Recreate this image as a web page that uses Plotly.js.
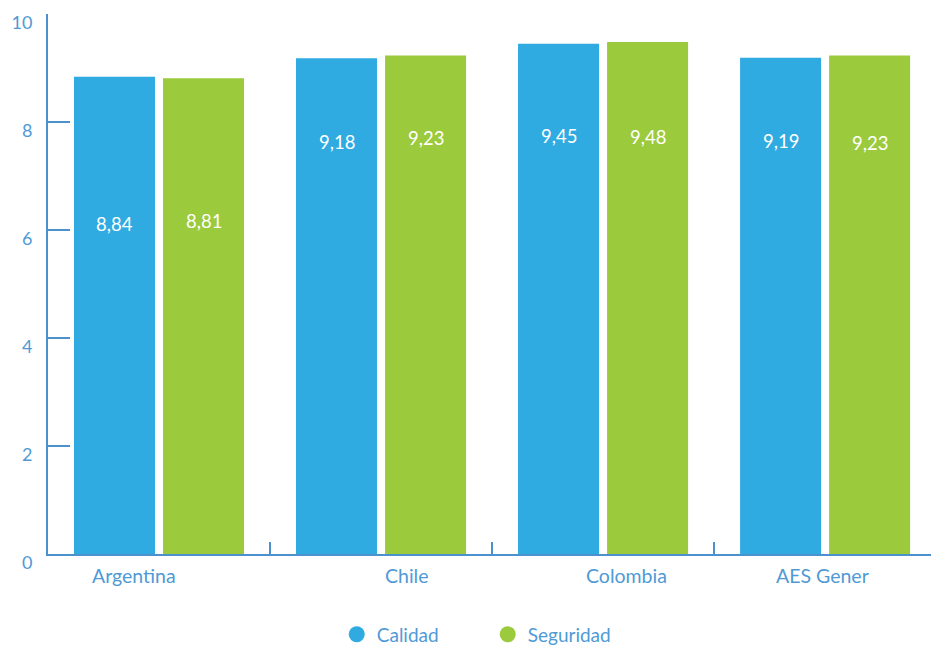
<!DOCTYPE html>
<html>
<head>
<meta charset="utf-8">
<script src="https://cdn.plot.ly/plotly-3.0.1.min.js"></script>
<style>html,body{margin:0;padding:0;background:#fff;}#chart{width:931px;height:646px;}</style>
</head>
<body>
<div id="chart"></div>
<script>
const categories = ["Argentina", "Chile", "Colombia", "AES Gener"];
const calidad = [8.84, 9.18, 9.45, 9.19];
const seguridad = [8.81, 9.23, 9.48, 9.23];
const seriesNames = ["Calidad", "Seguridad"];
const yTicks = [0, 2, 4, 6, 8, 10];

// styling / placement constants (pixels)
const blueColor = "#2fabe1";
const greenColor = "#9bca3c";
const axisColor = "#4a91cd";
const textColor = "#4f9ad6";
const fontFamily = "Lato, 'Open Sans', sans-serif";
const catLabelShift = [-25, 26, 23, -3];
const calLabelDrop = [147, 84, 92, 83];
const segLabelDrop = [143, 82, 95, 87];
const barOffset = 44.5;

function fmt(v) { return v.toFixed(2).replace(".", ","); }

const traces = [
  {type: "bar", x: categories, y: calidad, name: seriesNames[0], marker: {color: blueColor}, showlegend: false, hoverinfo: "skip"},
  {type: "bar", x: categories, y: seguridad, name: seriesNames[1], marker: {color: greenColor}, showlegend: false, hoverinfo: "skip"},
  {type: "scatter", mode: "markers", x: [null], y: [null], name: seriesNames[0], marker: {color: blueColor, size: 18, symbol: "circle"}},
  {type: "scatter", mode: "markers", x: [null], y: [null], name: seriesNames[1], marker: {color: greenColor, size: 18, symbol: "circle"}}
];

const annotations = [];
categories.forEach((c, i) => {
  annotations.push({x: c, y: calidad[i], xref: "x", yref: "y", text: fmt(calidad[i]), showarrow: false,
    xshift: -barOffset, yshift: -calLabelDrop[i], yanchor: "middle", xanchor: "center",
    font: {family: fontFamily, size: 18.5, color: "#ffffff"}});
  annotations.push({x: c, y: seguridad[i], xref: "x", yref: "y", text: fmt(seguridad[i]), showarrow: false,
    xshift: barOffset, yshift: -segLabelDrop[i], yanchor: "middle", xanchor: "center",
    font: {family: fontFamily, size: 18.5, color: "#ffffff"}});
  annotations.push({x: c, y: 0, xref: "x", yref: "y", text: c, showarrow: false,
    xshift: catLabelShift[i], yshift: -21, yanchor: "middle", xanchor: "center",
    font: {family: fontFamily, size: 19.5, color: textColor}});
});

const layout = {
  width: 931, height: 646,
  margin: {l: 48, r: 0, t: 14, b: 92, pad: 0},
  paper_bgcolor: "#ffffff", plot_bgcolor: "#ffffff",
  font: {family: fontFamily, size: 19.5, color: textColor},
  barmode: "group", bargap: 0.198, bargroupgap: 0.09,
  xaxis: {
    type: "category", range: [-0.5, 3.477], showgrid: false, zeroline: false,
    showline: true, linecolor: axisColor, linewidth: 2,
    ticks: "inside", tickson: "boundaries", ticklen: 12, tickwidth: 2, tickcolor: axisColor,
    showticklabels: false, fixedrange: true
  },
  yaxis: {
    range: [0, 10], tickvals: yTicks, ticktext: yTicks.map(String), showgrid: false, zeroline: false,
    showline: true, linecolor: axisColor, linewidth: 2,
    ticks: "inside", ticklen: 22, tickwidth: 2, tickcolor: axisColor,
    tickfont: {family: fontFamily, size: 18, color: textColor},
    ticklabelshift: 9, ticklabelstandoff: 10, fixedrange: true
  },
  showlegend: true,
  legend: {
    orientation: "h", x: 0.327, xanchor: "left", yref: "container", y: 0.018, yanchor: "middle",
    font: {family: fontFamily, size: 19, color: textColor},
    entrywidth: 106, entrywidthmode: "pixels", bgcolor: "rgba(0,0,0,0)"
  },
  annotations: annotations
};

Plotly.newPlot("chart", traces, layout, {staticPlot: true, displayModeBar: false});
</script>
</body>
</html>
